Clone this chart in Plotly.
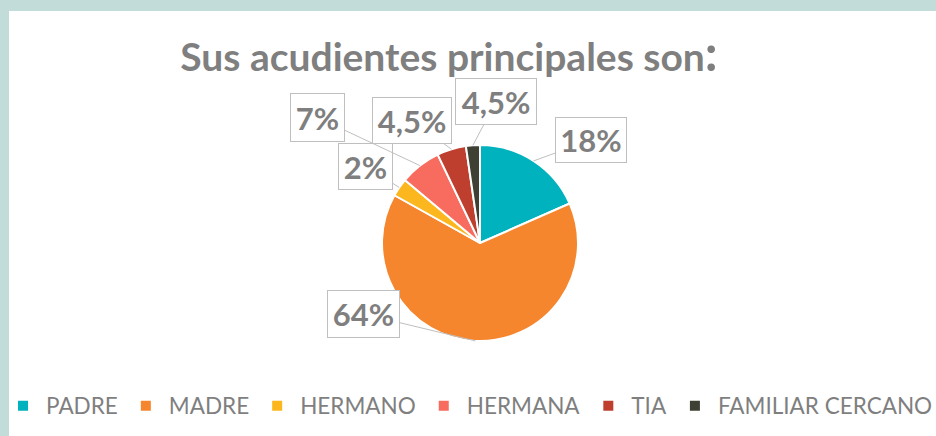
import math
import plotly.graph_objects as go

# ---- data ----
categories = ["PADRE", "MADRE", "HERMANO", "HERMANA", "TIA", "FAMILIAR CERCANO"]
slice_values = [18.4, 64.7, 3.0, 6.8, 4.8, 2.3]          # slice sizes
label_texts = ["18%", "64%", "2%", "7%", "4,5%", "4,5%"]  # printed data labels
title_main = "Sus acudientes principales son"
title_end = ":"

# ---- styles / layout ----
W, H = 936, 436
colors = ["#00B2BD", "#F5862E", "#FDB71E", "#F76C5E", "#BF3F2F", "#3E4033"]
gray = "#7F7F7F"
teal_bg = "#C2DDD9"
cx, cy, r = 480, 243, 98
# label box centers (px) and sizes
box_centers = [(591, 140), (363.5, 314), (365.5, 166.5), (317.5, 117.5), (412, 120.5), (496, 101.5)]
box_sizes = [(72, 46), (73, 48), (55, 47), (55, 49), (80, 47), (82, 47)]

fig = go.Figure()
fig.add_trace(go.Pie(
    labels=categories,
    values=slice_values,
    sort=False,
    direction="clockwise",
    rotation=0,
    textinfo="none",
    hoverinfo="label+percent",
    marker=dict(colors=colors, line=dict(color="white", width=2)),
    domain=dict(x=[(cx - r) / W, (cx + r) / W], y=[1 - (cy + r) / H, 1 - (cy - r) / H]),
))

# leader-line labels pointing at each slice's mid angle
total = sum(slice_values)
cum = 0.0
annotations = []
for v, txt, (bx, by), (bw, bh) in zip(slice_values, label_texts, box_centers, box_sizes):
    mid = (cum + v / 2) / total * 2 * math.pi
    cum += v
    tx = cx + r * math.sin(mid)
    ty = cy - r * math.cos(mid)
    annotations.append(dict(
        x=tx / W, y=1 - ty / H, xref="paper", yref="paper",
        text=f"<b>{txt}</b>", showarrow=True, arrowhead=0, arrowwidth=1,
        arrowcolor="#BFBFBF", standoff=0,
        ax=bx - tx, ay=by - ty,
        bordercolor="#BFBFBF", borderwidth=1, borderpad=0, bgcolor="white",
        width=bw - 2, height=bh - 2,
        font=dict(family="Lato", size=31, color=gray),
    ))

fig.update_layout(
    width=W, height=H,
    margin=dict(l=0, r=0, t=0, b=0),
    paper_bgcolor=teal_bg,
    plot_bgcolor="white",
    title=dict(text=f"<b>{title_main}<span style='font-size:50px'>{title_end}</span></b>",
               x=449 / W, xanchor="center", y=1 - 57 / H, yanchor="middle",
               font=dict(family="Lato", size=39, color=gray)),
    shapes=[dict(type="rect", xref="paper", yref="paper", x0=9 / W, x1=1, y0=0, y1=1 - 11 / H,
                 fillcolor="white", line=dict(width=0), layer="below")],
    annotations=annotations,
    showlegend=True,
    legend=dict(orientation="h", x=6 / W, xanchor="left", y=1 - 406 / H, yanchor="middle",
                font=dict(family="Lato", size=22.5, color=gray), bgcolor="rgba(0,0,0,0)",
                traceorder="normal", itemwidth=36),
)

fig.write_html("out.html", config={"displayModeBar": False},
               post_script="document.body.style.margin='0';document.body.style.background='%s';" % teal_bg)
